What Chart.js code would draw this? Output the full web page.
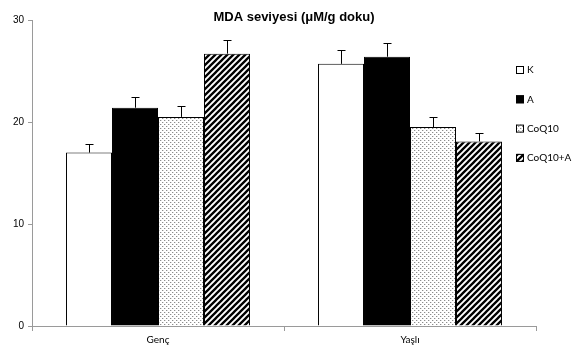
<!DOCTYPE html>
<html>
<head>
<meta charset="utf-8">
<script src="https://cdn.jsdelivr.net/npm/chart.js@4"></script>
<style>
html,body{margin:0;padding:0;background:#fff;}
#wrap{width:579px;height:348px;position:relative;}
</style>
</head>
<body>
<div id="wrap"><canvas id="c" width="579" height="348"></canvas></div>
<script>
const titleText = 'MDA seviyesi (μM/g doku)';
const categories = ['Genç', 'Yaşlı'];
const seriesNames = ['K', 'A', 'CoQ10', 'CoQ10+A'];
const valuesK = [17.0, 25.7];
const valuesA = [21.4, 26.4];
const valuesCoQ10 = [20.5, 19.5];
const valuesCoQ10A = [26.7, 18.1];
const errK = [0.85, 1.35];
const errA = [1.1, 1.3];
const errCoQ10 = [1.05, 1.0];
const errCoQ10A = [1.3, 0.85];
const yTicks = [0, 10, 20, 30];

function stipple() {
  const c = document.createElement('canvas');
  c.width = 4; c.height = 4;
  const g = c.getContext('2d');
  g.fillStyle = '#ffffff'; g.fillRect(0, 0, 4, 4);
  g.fillStyle = '#8c8c8c'; g.fillRect(0, 0, 1, 1); g.fillRect(2, 2, 1, 1);
  g.fillStyle = '#dcdcdc'; g.fillRect(1, 0, 1, 1); g.fillRect(3, 2, 1, 1);
  return g.createPattern(c, 'repeat');
}
function hatch() {
  const s = 6;
  const c = document.createElement('canvas');
  c.width = s; c.height = s;
  const g = c.getContext('2d');
  g.fillStyle = '#ffffff'; g.fillRect(0, 0, s, s);
  g.strokeStyle = '#000000'; g.lineWidth = 2.3;
  g.beginPath();
  g.moveTo(-s, s); g.lineTo(s, -s);
  g.moveTo(0, 2 * s); g.lineTo(2 * s, 0);
  g.moveTo(-s, 2 * s); g.lineTo(2 * s, -s);
  g.stroke();
  return g.createPattern(c, 'repeat');
}

const fills = ['#ffffff', '#000000', stipple(), hatch()];
const vals = [valuesK, valuesA, valuesCoQ10, valuesCoQ10A];
const errs = [errK, errA, errCoQ10, errCoQ10A];

const datasets = seriesNames.map((n, i) => ({
  label: n,
  data: vals[i],
  err: errs[i],
  backgroundColor: fills[i],
  borderColor: '#000000',
  borderWidth: 1,
  borderSkipped: 'bottom',
  barPercentage: 1.0,
  categoryPercentage: 0.73
}));

const errorBars = {
  id: 'errorBars',
  afterDatasetsDraw(chart) {
    const ctx = chart.ctx;
    const y = chart.scales.y;
    ctx.save();
    ctx.strokeStyle = '#000';
    ctx.lineWidth = 1;
    chart.data.datasets.forEach((ds, di) => {
      const meta = chart.getDatasetMeta(di);
      meta.data.forEach((bar, i) => {
        const x = Math.round(bar.x) + 0.5;
        const top = y.getPixelForValue(ds.data[i]);
        const e = y.getPixelForValue(ds.data[i] + ds.err[i]);
        ctx.beginPath();
        ctx.moveTo(x, top);
        ctx.lineTo(x, Math.round(e) + 0.5);
        ctx.moveTo(x - 4, Math.round(e) + 0.5);
        ctx.lineTo(x + 4, Math.round(e) + 0.5);
        ctx.stroke();
      });
    });
    ctx.restore();
  }
};

const extras = {
  id: 'extras',
  afterDraw(chart) {
    const ctx = chart.ctx;
    ctx.save();
    ctx.fillStyle = '#000';
    ctx.font = 'bold 13px "Liberation Sans", Arial, sans-serif';
    ctx.textAlign = 'center';
    ctx.textBaseline = 'middle';
    ctx.fillText(titleText, 294, 17);
    // legend
    ctx.font = '10px Lato, "Liberation Sans", sans-serif';
    ctx.textAlign = 'left';
    chart.data.datasets.forEach((ds, i) => {
      const cy = 70 + i * 29.3;
      ctx.fillStyle = ds.backgroundColor;
      ctx.fillRect(516, cy - 4, 8, 8);
      ctx.strokeStyle = '#000';
      ctx.lineWidth = 1;
      ctx.strokeRect(516.5, cy - 3.5, 7, 7);
      ctx.fillStyle = '#000';
      ctx.fillText(ds.label, 527, cy);
    });
    ctx.restore();
  }
};

new Chart(document.getElementById('c'), {
  type: 'bar',
  data: { labels: categories, datasets },
  options: {
    responsive: false,
    animation: false,
    devicePixelRatio: 1,
    layout: { padding: { top: 20, right: 43, left: 0, bottom: 0 } },
    plugins: { legend: { display: false }, title: { display: false }, tooltip: { enabled: false } },
    scales: {
      x: {
        grid: { offset: true, drawOnChartArea: false, drawTicks: true, tickLength: 5, color: '#9a9a9a' },
        border: { color: '#9a9a9a', width: 1 },
        ticks: { color: '#000', font: { family: 'Lato, "Liberation Sans", sans-serif', size: 10 }, padding: 3 },
        afterFit(s) { s.height = 22; }
      },
      y: {
        min: 0, max: 30,
        afterBuildTicks(s) { s.ticks = yTicks.map(v => ({ value: v })); },
        grid: { drawOnChartArea: false, drawTicks: true, tickLength: 4, color: '#9a9a9a' },
        border: { color: '#9a9a9a', width: 1 },
        ticks: { color: '#000', font: { family: '"Liberation Sans", Arial, sans-serif', size: 10 }, padding: 4 },
        afterFit(s) { s.width = 32; }
      }
    }
  },
  plugins: [errorBars, extras]
});
</script>
</body>
</html>
